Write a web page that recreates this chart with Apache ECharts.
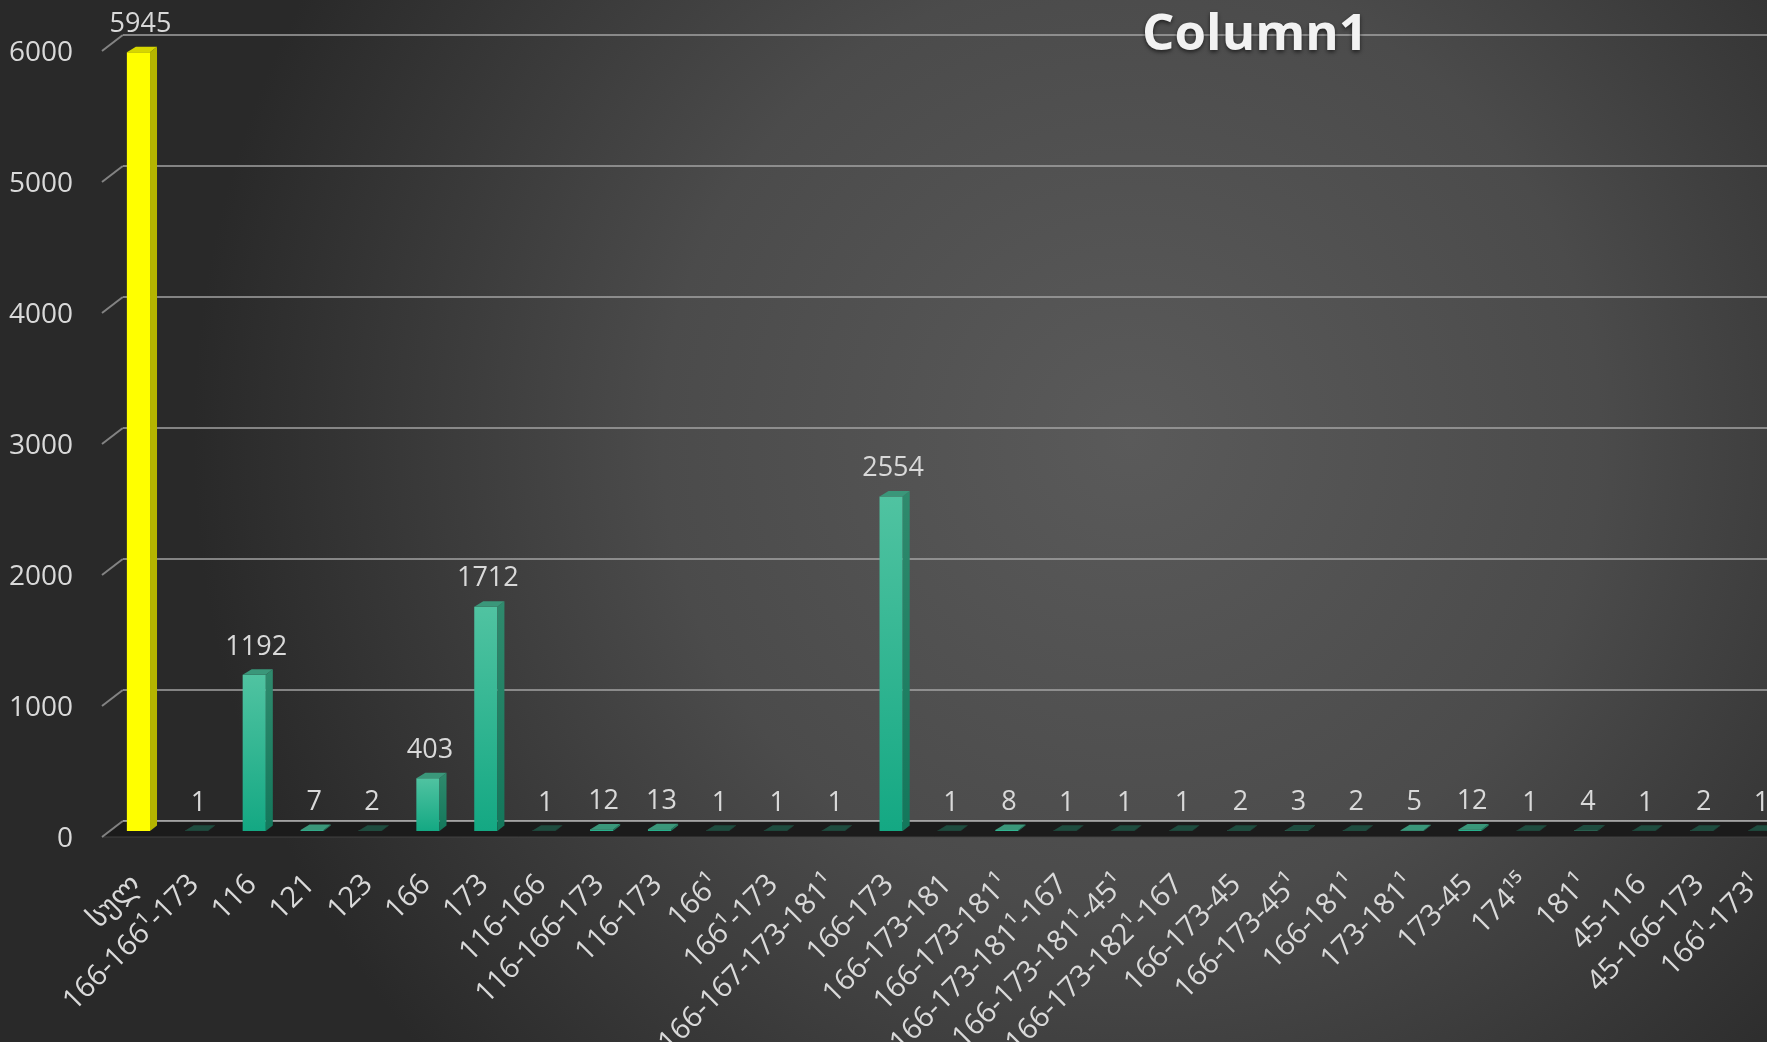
<!DOCTYPE html>
<html>
<head>
<meta charset="utf-8">
<script src="https://cdn.jsdelivr.net/npm/echarts@6/dist/echarts.min.js"></script>
<style>html,body{margin:0;padding:0;background:#2b2b2b;}#c{width:1767px;height:1042px;}</style>
</head>
<body>
<div id="c"></div>
<script>
const titleText = 'Column1';
const categories = ['სულ','166-166¹-173','116','121','123','166','173','116-166','116-166-173','116-173','166¹','166¹-173','166-167-173-181¹','166-173','166-173-181','166-173-181¹','166-173-181¹-167','166-173-181¹-45¹','166-173-182¹-167','166-173-45','166-173-45¹','166-181¹','173-181¹','173-45','174¹⁵','181¹','45-116','45-166-173','166¹-173¹'];
const values = [5945,1,1192,7,2,403,1712,1,12,13,1,1,1,2554,1,8,1,1,1,2,3,2,5,12,1,4,1,2,1];
const yTicks = [0,1000,2000,3000,4000,5000,6000];
const yMin = 0, yMax = 6000, yStep = 1000;

const FONT = '"Open Sans","Noto Sans","DejaVu Sans",sans-serif';
const TXT = '#d9d9d9';
const DEPTH_X = 7, DEPTH_Y = 5.5;

const chart = echarts.init(document.getElementById('c'), null, {renderer:'canvas'});

function barItem(params, api){
  const i = api.value(0), v = api.value(1);
  const band = api.size([1,0])[0];
  const w = band*0.4;
  const base = api.coord([i, 0]);
  const top = api.coord([i, v]);
  const cx = base[0], yb = base[1], yt = top[1];
  const L = cx - w/2, R = cx + w/2;
  const isTotal = i === 0;
  let front, side, topc;
  if (isTotal){
    front = '#ffff00'; side = '#b5b500'; topc = '#d6d600';
  } else {
    front = new echarts.graphic.LinearGradient(0,0,0,1,[{offset:0,color:'#50c3a1'},{offset:1,color:'#14a883'}]);
    side = new echarts.graphic.LinearGradient(0,0,0,1,[{offset:0,color:'#2f8a6d'},{offset:1,color:'#13775b'}]);
    topc = v < 5 ? '#1e4c3f' : '#3a977a';
  }
  return {
    type:'group',
    children:[
      {type:'rect', shape:{x:L, y:yt, width:w, height:Math.max(0,yb-yt)}, style:{fill:front}},
      {type:'polygon', shape:{points:[[R,yb],[R+DEPTH_X,yb-DEPTH_Y],[R+DEPTH_X,yt-DEPTH_Y],[R,yt]]}, style:{fill:side}},
      {type:'polygon', shape:{points:[[L,yt],[L+DEPTH_X+2,yt-DEPTH_Y],[R+DEPTH_X,yt-DEPTH_Y],[R,yt]]}, style:{fill:topc}},
      {type:'text', style:{text:String(v), x:cx+2, y:yt-DEPTH_Y-9, align:'center', verticalAlign:'bottom', fill:TXT, fontSize:27, fontFamily:FONT}}
    ]
  };
}

function decoItem(params, api){
  const v = api.value(0);
  const band = api.size([1,0])[0];
  const p = api.coord([0, v]);
  const fx = p[0] - band*0.63, fy = p[1] + 6;
  const bx = p[0] - band*0.27, by = p[1] - 10;
  const children = [];
  if (v === 0){
    const W = api.getWidth();
    children.push({type:'polygon', shape:{points:[[fx,fy],[bx,by],[W,by],[W,fy]]}, style:{fill:'#1b1b1b'}});
    children.push({type:'line', shape:{x1:bx,y1:by,x2:W,y2:by}, style:{stroke:'rgba(170,170,170,0.8)', lineWidth:2}});
    children.push({type:'line', shape:{x1:fx,y1:fy,x2:W,y2:fy}, style:{stroke:'rgba(70,70,70,0.9)', lineWidth:1}});
  }
  children.push({type:'line', shape:{x1:fx,y1:fy,x2:bx,y2:by}, style:{stroke:'rgba(170,170,170,0.7)', lineWidth:2}});
  return {type:'group', children};
}

const option = {
  backgroundColor: {type:'radial', x:0.64, y:0.42, r:0.9, colorStops:[{offset:0,color:'#5a5a5a'},{offset:0.5,color:'#4b4b4b'},{offset:1,color:'#292929'}]},
  animation:false,
  title:{text:titleText, left:1250, top:5, textAlign:'center',
    textStyle:{color:'#f2f2f2', fontSize:51, fontWeight:'bold', fontFamily:FONT, textShadowColor:'rgba(0,0,0,0.6)', textShadowBlur:4, textShadowOffsetY:2}},
  grid:[
    {left:109.5, width:1679, top:45, height:786, outerBoundsMode:'none', containLabel:false},
    {left:102, width:10, top:53, height:786, outerBoundsMode:'none', containLabel:false},
    {left:123, right:0, top:34.5, height:786, outerBoundsMode:'none', containLabel:false},
    {left:107.5, width:1679, top:45, height:827, outerBoundsMode:'none', containLabel:false}
  ],
  xAxis:[
    {gridIndex:0, type:'category', data:categories, show:false},
    {gridIndex:1, type:'value', show:false},
    {gridIndex:2, type:'value', show:false},
    {gridIndex:3, type:'category', data:categories, axisLine:{show:false}, axisTick:{show:false},
      axisLabel:{interval:0, rotate:45, margin:8, color:TXT, fontSize:29, fontFamily:FONT}}
  ],
  yAxis:[
    {gridIndex:0, type:'value', min:yMin, max:yMax, interval:yStep, show:false},
    {gridIndex:1, type:'value', min:yMin, max:yMax, interval:yStep, axisLine:{show:false}, axisTick:{show:false}, splitLine:{show:false},
      axisLabel:{margin:29, color:TXT, fontSize:28, fontFamily:FONT, formatter:(v)=>String(v)}},
    {gridIndex:2, type:'value', min:yMin, max:yMax, interval:yStep, axisLine:{show:false}, axisTick:{show:false}, axisLabel:{show:false},
      splitLine:{show:true, lineStyle:{color:'rgba(170,170,170,0.7)', width:2}}},
    {gridIndex:3, type:'value', show:false}
  ],
  series:[
    {type:'custom', xAxisIndex:0, yAxisIndex:0, z:1, clip:false, renderItem:decoItem, data:yTicks.map(t=>[t])},
    {type:'custom', xAxisIndex:0, yAxisIndex:0, z:3, clip:false, renderItem:barItem, data:values.map((v,i)=>[i,v])}
  ]
};
chart.setOption(option);
</script>
</body>
</html>
